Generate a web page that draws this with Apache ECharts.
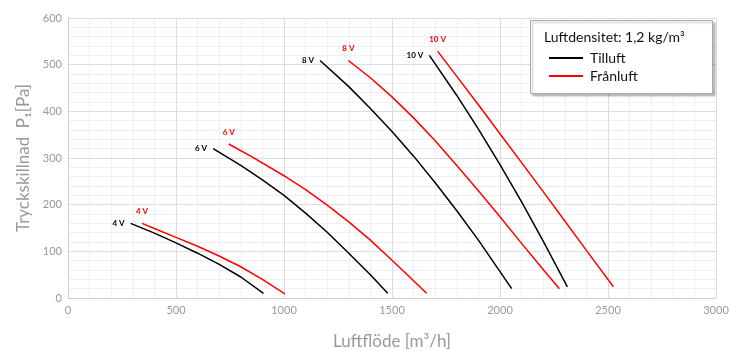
<!DOCTYPE html>
<html>
<head>
<meta charset="utf-8">
<script src="https://cdn.jsdelivr.net/npm/echarts@6/dist/echarts.min.js"></script>
<style>
    html, body { margin: 0; padding: 0; background: #fff; }
    #chart { width: 741px; height: 351px; }
</style>
</head>
<body>
<div id="chart"></div>
<script>
// kurvor: [flöde m3/h, tryck Pa]
var till4 = [[290, 160], [400, 139], [500, 118], [600, 96], [700, 72], [800, 45], [905, 10]];
var till6 = [[672, 320], [800, 284], [900, 253], [1000, 220], [1100, 182], [1200, 141], [1300, 96], [1400, 50], [1480, 10]];
var till8 = [[1167, 509], [1300, 453], [1400, 406], [1500, 357], [1600, 304], [1700, 247], [1800, 187], [1900, 124], [2054, 20]];
var till10 = [[1673, 520], [1800, 434], [1900, 362], [2000, 286], [2100, 206], [2200, 122], [2312, 24]];
var fran4 = [[343, 160], [400, 149], [500, 130], [600, 111], [700, 90], [800, 67], [900, 40], [1004, 9]];
var fran6 = [[744, 330], [850, 303], [1000, 262], [1100, 232], [1200, 199], [1300, 163], [1400, 124], [1500, 81], [1600, 37], [1660, 10]];
var fran8 = [[1298, 509], [1400, 472], [1500, 431], [1600, 386], [1700, 337], [1800, 284], [1900, 230], [2000, 174], [2100, 117], [2200, 61], [2275, 20]];
var fran10 = [[1711, 529], [1800, 475], [1900, 414], [2000, 352], [2100, 290], [2200, 228], [2300, 165], [2400, 102], [2525, 24]];
var voltLabels = ['4 V', '6 V', '8 V', '10 V'];
var seriesNames = ['Tilluft', 'Frånluft'];

var font = 'Lato, "Open Sans", sans-serif';

function curve(name, pts, label, color, isRed) {
    var data = pts.map(function (p, i) {
        if (i == 0) {
            return {
                value: p,
                label: {
                    show: true,
                    formatter: label,
                    position: isRed ? 'top' : 'left',
                    distance: isRed ? 8 : 6,
                    color: color,
                    fontSize: 8,
                    fontWeight: 'bold',
                    fontFamily: font
                }
            };
        }
        return p;
    });
    return {
        name: name,
        type: 'line',
        smooth: false,
        symbol: 'circle',
        symbolSize: 0,
        showSymbol: true,
        silent: true,
        lineStyle: {color: color, width: 1.5, join: 'round'},
        itemStyle: {color: color},
        data: data
    };
}

var series = [];
[till4, till6, till8, till10].forEach(function (c, i) {
    series.push(curve(seriesNames[0], c, voltLabels[i], '#000000', false));
});
[fran4, fran6, fran8, fran10].forEach(function (c, i) {
    series.push(curve(seriesNames[1], c, voltLabels[i], '#ff0000', true));
});

var chart = echarts.init(document.getElementById('chart'));
chart.setOption({
    animation: false,
    grid: {left: 68, right: 25, top: 18, bottom: 53, outerBoundsMode: 'none'},
    xAxis: {
        type: 'value',
        min: 0, max: 3000, interval: 500,
        name: 'Luftflöde [m³/h]',
        nameLocation: 'middle',
        nameGap: 35,
        nameTextStyle: {color: '#999', fontSize: 17, fontFamily: font},
        axisLine: {show: true, lineStyle: {color: '#ccc'}},
        axisTick: {show: false},
        axisLabel: {color: '#999', fontSize: 11, fontFamily: font, margin: 7, formatter: function (v) { return '' + v; }},
        splitLine: {show: true, lineStyle: {color: '#dcdcdc'}},
        minorTick: {show: false, splitNumber: 5},
        minorSplitLine: {show: true, lineStyle: {color: '#efefef'}}
    },
    yAxis: {
        type: 'value',
        min: 0, max: 600, interval: 100,
        name: 'Tryckskillnad  P₁[Pa]',
        nameLocation: 'middle',
        nameGap: 34,
        nameTextStyle: {color: '#999', fontSize: 17, fontFamily: font},
        axisLine: {show: true, lineStyle: {color: '#ccc'}},
        axisTick: {show: false},
        axisLabel: {color: '#999', fontSize: 11, fontFamily: font, margin: 6},
        splitLine: {show: true, lineStyle: {color: '#dcdcdc'}},
        minorTick: {show: false, splitNumber: 5},
        minorSplitLine: {show: true, lineStyle: {color: '#efefef'}}
    },
    graphic: [
        {
            type: 'rect',
            left: 530, top: 20,
            z: 10,
            shape: {width: 182, height: 73},
            style: {
                fill: '#fff', stroke: '#aaa', lineWidth: 1,
                shadowBlur: 2, shadowOffsetX: 2, shadowOffsetY: 2, shadowColor: 'rgba(0,0,0,0.25)'
            }
        },
        {
            type: 'text',
            left: 544, top: 30,
            z: 11,
            style: {text: 'Luftdensitet: 1,2 kg/m³', fill: '#111', font: '14px ' + font}
        }
    ],
    legend: {
        data: seriesNames,
        orient: 'vertical',
        left: 544, top: 46,
        z: 12,
        itemWidth: 34, itemHeight: 2, itemGap: 4,
        icon: 'rect',
        textStyle: {color: '#111', fontSize: 14, fontFamily: font, padding: [0, 0, 0, 2]},
        selectedMode: false
    },
    series: series
});
</script>
</body>
</html>
